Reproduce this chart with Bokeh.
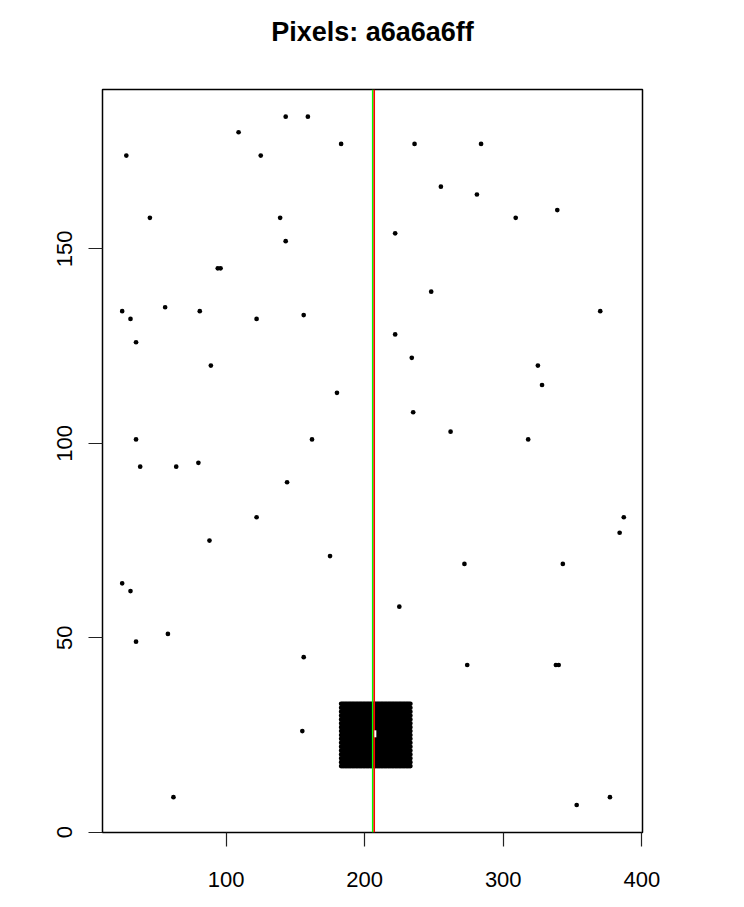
from bokeh.plotting import figure
from bokeh.models import Range1d, FixedTicker, Span, Title
from bokeh.embed import file_html
from bokeh.resources import INLINE
import numpy as np

# scattered pixel points
point_x = [28, 109, 143, 159, 125, 183, 45, 139, 143, 94, 96, 25, 31, 56, 81, 122, 156,
           236, 284, 255, 281, 339, 309, 222, 248, 370, 222,
           35, 89, 180, 35, 162, 38, 64, 80, 144, 122, 88, 175,
           234, 325, 328, 235, 262, 318, 387, 384, 272, 343,
           25, 31, 58, 35, 156, 155, 62,
           225, 274, 338, 340, 353, 377]
point_y = [174, 180, 184, 184, 174, 177, 158, 158, 152, 145, 145, 134, 132, 135, 134, 132, 133,
           177, 177, 166, 164, 160, 158, 154, 139, 134, 128,
           126, 120, 113, 101, 101, 94, 94, 95, 90, 81, 75, 71,
           122, 120, 115, 108, 103, 101, 81, 77, 69, 69,
           64, 62, 51, 49, 45, 26, 9,
           58, 43, 43, 43, 7, 9]

# dense block of pixels (columns / rows)
block_cols = list(range(183, 234))
block_rows = list(range(17, 34))

# marked pixel inside block
mark_x = [207.7]
mark_y = [25.3]

# vertical reference lines
green_line_x = 205.8
red_line_x = 206.9

x_ticks = [100, 200, 300, 400]
y_ticks = [0, 50, 100, 150]
title_text = "Pixels: a6a6a6ff"

FONT = "Liberation Sans"
X0, X1 = 10.8, 400.5
Y0, Y1 = -0.08, 191.0

p = figure(frame_width=540, frame_height=743,
           x_range=Range1d(X0, X1), y_range=Range1d(Y0, Y1),
           output_backend="svg", toolbar_location=None,
           min_border_left=102, min_border_right=102,
           min_border_top=89, min_border_bottom=75,
           title=None)

p.background_fill_color = "white"
p.border_fill_color = "white"
p.outline_line_color = "black"
p.outline_line_width = 1.5
p.outline_line_alpha = 1.0
p.xgrid.visible = False
p.ygrid.visible = False

for ax, ticks in ((p.xaxis[0], x_ticks), (p.yaxis[0], y_ticks)):
    ax.ticker = FixedTicker(ticks=ticks)
    ax.minor_tick_line_color = None
    ax.axis_line_color = None
    ax.major_tick_in = 0
    ax.major_tick_out = 14
    ax.major_tick_line_color = "#222222"
    ax.major_tick_line_width = 1.2
    ax.major_label_text_font = FONT
    ax.major_label_text_font_size = "22px"
    ax.major_label_text_color = "black"

p.xaxis[0].major_label_standoff = 25
p.yaxis[0].major_label_standoff = 16
p.yaxis[0].major_label_orientation = "vertical"

# blank spacer panel between the frame and the title
p.add_layout(Title(text=" ", text_font_size="1px", standoff=35), "above")

# title, centred over the frame
p.add_layout(Title(text=title_text, align="center", text_font=FONT,
                   text_font_size="27px", text_font_style="bold",
                   text_color="black", standoff=10), "above")

# block of dense pixels
bx, by = np.meshgrid(block_cols, block_rows)
p.scatter(x=bx.ravel(), y=by.ravel(), size=4.7, marker="circle",
          fill_color="black", line_color=None)

# scattered points
p.scatter(x=point_x, y=point_y, size=4.7, marker="circle",
          fill_color="black", line_color=None)

# vertical lines
p.add_layout(Span(location=green_line_x, dimension="height",
                  line_color="#00ff00", line_width=1.6))
p.add_layout(Span(location=red_line_x, dimension="height",
                  line_color="#ff0000", line_width=1.6))

# marked pixel
p.rect(x=mark_x, y=mark_y, width=2, height=7, width_units="screen",
       height_units="screen", fill_color="white", line_color=None, level="overlay")

open("out.html", "w").write(file_html(p, INLINE))
